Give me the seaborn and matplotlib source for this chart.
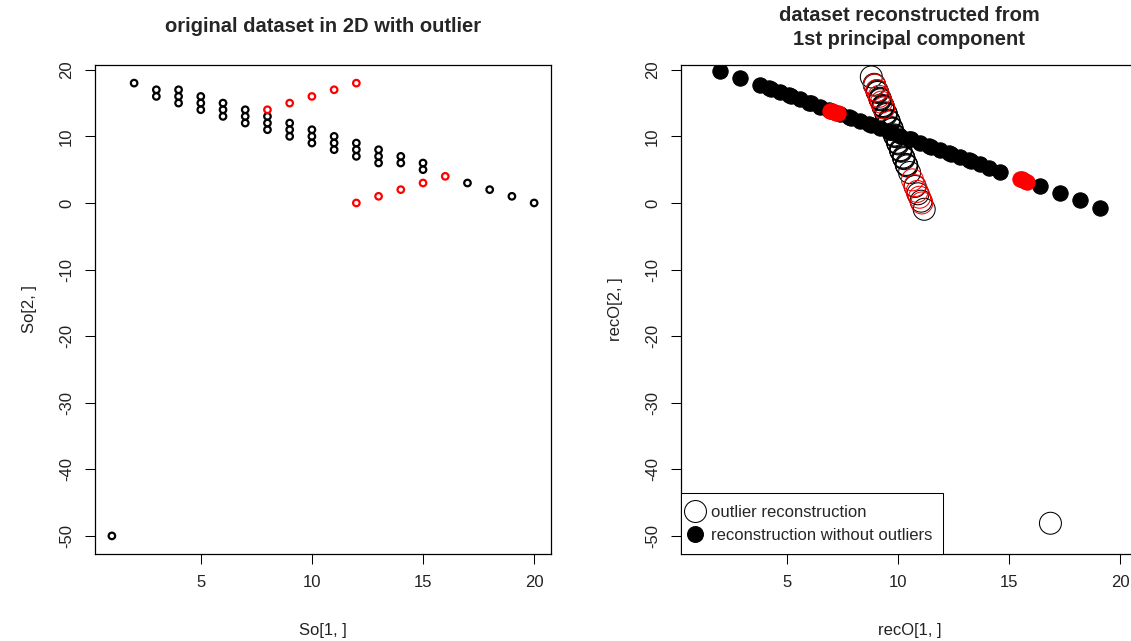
import matplotlib
matplotlib.use("Agg")
import matplotlib.pyplot as plt
from matplotlib.lines import Line2D
import pandas as pd
import seaborn as sns

# original dataset with outlier (first point), red = the two diagonal arms
so_x = [1,
        2, 3, 3, 4, 4, 4, 5, 5, 5, 6, 6, 6, 7, 7, 7, 8, 8, 8, 9, 9, 9,
        10, 10, 10, 11, 11, 11, 12, 12, 12, 13, 13, 13, 14, 14, 15, 15,
        17, 18, 19, 20,
        8, 9, 10, 11, 12, 12, 13, 14, 15, 16]
so_y = [-50,
        18, 17, 16, 17, 16, 15, 16, 15, 14, 15, 14, 13, 14, 13, 12, 13, 12, 11, 12, 11, 10,
        11, 10, 9, 10, 9, 8, 9, 8, 7, 8, 7, 6, 7, 6, 6, 5,
        3, 2, 1, 0,
        14, 15, 16, 17, 18, 0, 1, 2, 3, 4]
point_col = ["black"] * 42 + ["red"] * 10

# reconstruction from PC1 of the dataset with the outlier
reco_x = [16.85,
          8.79, 8.92, 9.04, 8.94, 9.06, 9.17, 9.07, 9.19, 9.31, 9.20, 9.32, 9.44,
          9.33, 9.45, 9.57, 9.47, 9.58, 9.70, 9.60, 9.72, 9.83, 9.73, 9.85, 9.97,
          9.86, 9.98, 10.10, 10.00, 10.11, 10.23, 10.13, 10.25, 10.36, 10.26, 10.38,
          10.39, 10.51, 10.76, 10.89, 11.03, 11.17,
          9.35, 9.24, 9.14, 9.04, 8.93, 11.06, 10.96, 10.85, 10.75, 10.64]
reco_y = [-48.1,
          18.93, 17.82, 16.84, 17.70, 16.72, 15.73, 16.60, 15.61, 14.63, 15.50, 14.51, 13.52,
          14.39, 13.40, 12.42, 13.29, 12.30, 11.31, 12.18, 11.20, 10.21, 11.08, 10.09, 9.11,
          9.97, 8.99, 8.00, 8.87, 7.88, 6.90, 7.77, 6.78, 5.79, 6.66, 5.68,
          5.56, 4.57, 2.48, 1.38, 0.27, -0.95,
          14.27, 15.14, 16.01, 16.88, 17.74, 0.00, 0.86, 1.73, 2.60, 3.47]

# reconstruction from PC1 of the dataset without the outlier
rec_x = [1.98,
         2.88, 3.77, 4.27, 4.18, 4.67, 5.16, 5.08, 5.57, 6.06, 5.98, 6.47, 6.96,
         6.88, 7.37, 7.86, 7.78, 8.27, 8.76, 8.68, 9.17, 9.66, 9.58, 10.07, 10.56,
         10.48, 10.97, 11.46, 11.38, 11.87, 12.36, 12.27, 12.77, 13.26, 13.17, 13.67,
         14.07, 14.56, 16.36, 17.26, 18.16, 19.06,
         7.29, 7.20, 7.12, 7.04, 6.95, 15.80, 15.71, 15.63, 15.55, 15.46]
rec_y = [19.87,
         18.79, 17.72, 17.12, 17.22, 16.63, 16.04, 16.14, 15.55, 14.95, 15.05, 14.46, 13.87,
         13.97, 13.38, 12.79, 12.89, 12.30, 11.70, 11.80, 11.21, 10.62, 10.72, 10.13, 9.54,
         9.64, 9.04, 8.45, 8.55, 7.96, 7.37, 7.47, 6.88, 6.29, 6.39, 5.79,
         5.30, 4.71, 2.54, 1.46, 0.38, -0.71,
         13.48, 13.58, 13.68, 13.78, 13.88, 3.22, 3.32, 3.43, 3.53, 3.63]

x_ticks = [5, 10, 15, 20]
y_ticks = [-50, -40, -30, -20, -10, 0, 10, 20]

df = pd.DataFrame({"x": so_x, "y": so_y, "col": point_col,
                   "ox": reco_x, "oy": reco_y, "rx": rec_x, "ry": rec_y})

sns.set_style("ticks")
plt.rcParams["font.family"] = ["Liberation Sans", "DejaVu Sans"]
plt.rcParams["axes.edgecolor"] = "black"
plt.rcParams["axes.linewidth"] = 0.9
plt.rcParams["axes.unicode_minus"] = False

fig = plt.figure(figsize=(11.31, 6.41), dpi=100)
ax1 = fig.add_axes([0.084, 0.1357, 0.4032, 0.7629])
ax2 = fig.add_axes([0.6024, 0.1357, 0.4032, 0.7629])

# 1. original data, open circles
for c in ["black", "red"]:
    sub = df[df["col"] == c]
    sns.scatterplot(data=sub, x="x", y="y", ax=ax1, color=c, facecolors="none",
                    edgecolor=c, linewidth=1.6, s=22)

# 2. reconstructions
for c in ["black", "red"]:
    sub = df[df["col"] == c]
    sns.scatterplot(data=sub, x="ox", y="oy", ax=ax2, color=c, facecolors="none",
                    edgecolor=c, linewidth=0.75, s=250)
for c in ["black", "red"]:
    sub = df[df["col"] == c]
    sns.scatterplot(data=sub, x="rx", y="ry", ax=ax2, color=c,
                    edgecolor=c, linewidth=0.75, s=122)

for ax, name in [(ax1, "So"), (ax2, "recO")]:
    ax.set_xlim(0.24, 20.76)
    ax.set_ylim(-52.72, 20.72)
    ax.set_xticks(x_ticks)
    ax.set_yticks(y_ticks)
    ax.tick_params(direction="out", length=7.2, width=0.75, labelsize=12, pad=8,
                   color="black", labelcolor="#222222")
    ax.tick_params(axis="y", labelrotation=90)
    for lab in ax.get_yticklabels():
        lab.set_va("center")
    for sp in ax.spines.values():
        sp.set_visible(True)
        sp.set_color("black")
    ax.set_xlabel(f"{name}[1, ]", fontsize=12, labelpad=24, color="#222222")
    ax.set_ylabel(f"{name}[2, ]", fontsize=12, labelpad=16, color="#222222")

ax1.set_title("original dataset in 2D with outlier", fontsize=14.5,
              fontweight="bold", pad=23.8)
ax2.set_title("dataset reconstructed from\n1st principal component", fontsize=14.5,
              fontweight="bold", pad=14.4, linespacing=1.35)

handles = [
    Line2D([], [], marker="o", linestyle="none", markerfacecolor="none",
           markeredgecolor="black", markersize=15.8, markeredgewidth=0.75),
    Line2D([], [], marker="o", linestyle="none", color="black", markersize=11.2),
]
leg = ax2.legend(handles, ["outlier reconstruction", "reconstruction without outliers"],
                 loc="lower left", borderaxespad=0, frameon=True, fancybox=False,
                 edgecolor="black", framealpha=1, fontsize=12, borderpad=0.68,
                 handlelength=0.3, handletextpad=0.78, labelspacing=0.48)
leg.get_frame().set_linewidth(0.75)

fig.savefig("out.png", dpi=100)
